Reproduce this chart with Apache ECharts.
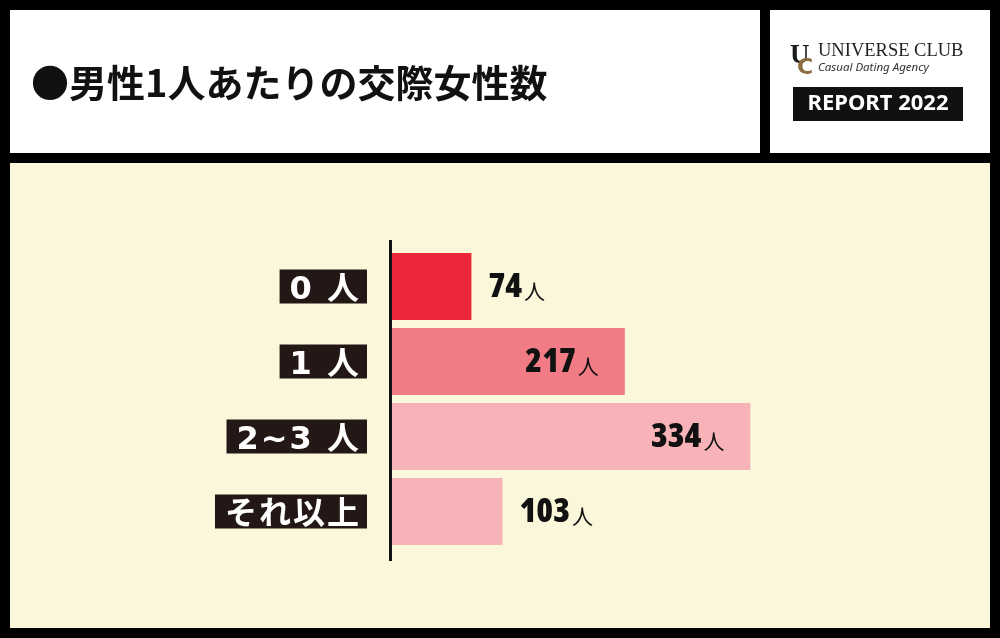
<!DOCTYPE html>
<html><head><meta charset="utf-8">
<script src="https://cdn.jsdelivr.net/npm/echarts@6/dist/echarts.min.js"></script>
<style>html,body{margin:0;padding:0;background:#000}#c{width:1000px;height:638px}</style>
</head><body><div id="c"></div>
<script>
const categories = ['0 人', '1 人', '2~3 人', 'それ以上'];
const values = [74, 217, 334, 103];
const unit = '人';
const titleText = '●男性1人あたりの交際女性数';
const brandName = 'UNIVERSE CLUB';
const brandSub = 'Casual Dating Agency';
const reportText = 'REPORT 2022';

const palette = ['#EC2739', '#F27C86', '#F8B3B8', '#F8B3B8'];
const numFont = '"Open Sans","DejaVu Sans",sans-serif';
const jpFont = '"Noto Sans CJK JP","Noto Sans",sans-serif';
const latinFont = '"DejaVu Sans",sans-serif';

const chart = echarts.init(document.getElementById('c'));
chart.setOption({
  backgroundColor: '#000',
  animation: false,
  graphic: [
    {type:'rect', z:-10, shape:{x:10,y:10,width:750,height:143}, style:{fill:'#fff'}},
    {type:'rect', z:-10, shape:{x:770,y:10,width:220,height:143}, style:{fill:'#fff'}},
    {type:'rect', z:-10, shape:{x:10,y:163,width:980,height:465}, style:{fill:'#FBF7DB'}},
    {type:'text', left:31, top:64, style:{text:titleText, font:'bold 38px ' + jpFont, fill:'#111'}},
    {type:'text', left:790, top:43, style:{text:'U', font:'bold 27px "Liberation Serif",serif', fill:'#1a1a1a'}},
    {type:'text', left:797, top:57, style:{text:'C', font:'bold 22px "DejaVu Sans",sans-serif', fill:'#8C6D3F'}},
    {type:'text', left:818, top:42, style:{text:brandName, font:'18.5px "Liberation Serif",serif', fill:'#222'}},
    {type:'text', left:818, top:62, style:{text:brandSub, font:'italic 11.5px "Noto Sans",sans-serif', fill:'#333'}},
    {type:'rect', shape:{x:793,y:87,width:170,height:34}, style:{fill:'#111'}},
    {type:'text', x:878, y:104, style:{text:reportText, font:'bold 22px "Noto Sans",sans-serif', fill:'#fff', align:'center', verticalAlign:'middle'}},
    {type:'line', z:10, shape:{x1:390.5,y1:240,x2:390.5,y2:561}, style:{stroke:'#111', lineWidth:3}}
  ],
  grid: {left:392, top:249, height:300, width:536.5},
  xAxis: {type:'value', min:0, max:500, show:false},
  yAxis: {
    type:'category', data:categories, inverse:true,
    axisLine:{show:false}, axisTick:{show:false},
    axisLabel:{
      margin:25,
      backgroundColor:'#231815',
      padding:[1,7,1,9],
      formatter: v => Array.from(v).map(ch => (/[\x00-\x7f]/.test(ch) ? '{d|' : '{c|') + ch + '}').join(''),
      rich:{
        c:{color:'#fff', fontFamily:jpFont, fontWeight:'bold', fontSize:32, padding:[0,1,0,1], lineHeight:32, verticalAlign:'top'},
        d:{color:'#fff', fontFamily:latinFont, fontWeight:'bold', fontSize:32, padding:[4,1,0,1], lineHeight:28, verticalAlign:'top'}
      }
    }
  },
  series: [{
    type:'bar', barCategoryGap:'10.7%',
    data: values.map((v,i) => {
      const inside = v > 150;
      return {
        value: v,
        itemStyle: {color: palette[i]},
        label: {show:true, position: inside ? 'insideRight' : 'right', distance: inside ? 26 : 17}
      };
    }),
    label: {
      formatter: p => '{n|' + p.value + '}{u|' + unit + '}',
      rich: {
        n: {fontFamily:numFont, fontStyle:'condensed', fontWeight:800, fontSize:34, color:'#111', verticalAlign:'bottom', lineHeight:36},
        u: {fontFamily:jpFont, fontWeight:'normal', fontSize:21, color:'#111', verticalAlign:'bottom', lineHeight:36, padding:[0,0,3,2]}
      }
    }
  }]
});
</script></body></html>
